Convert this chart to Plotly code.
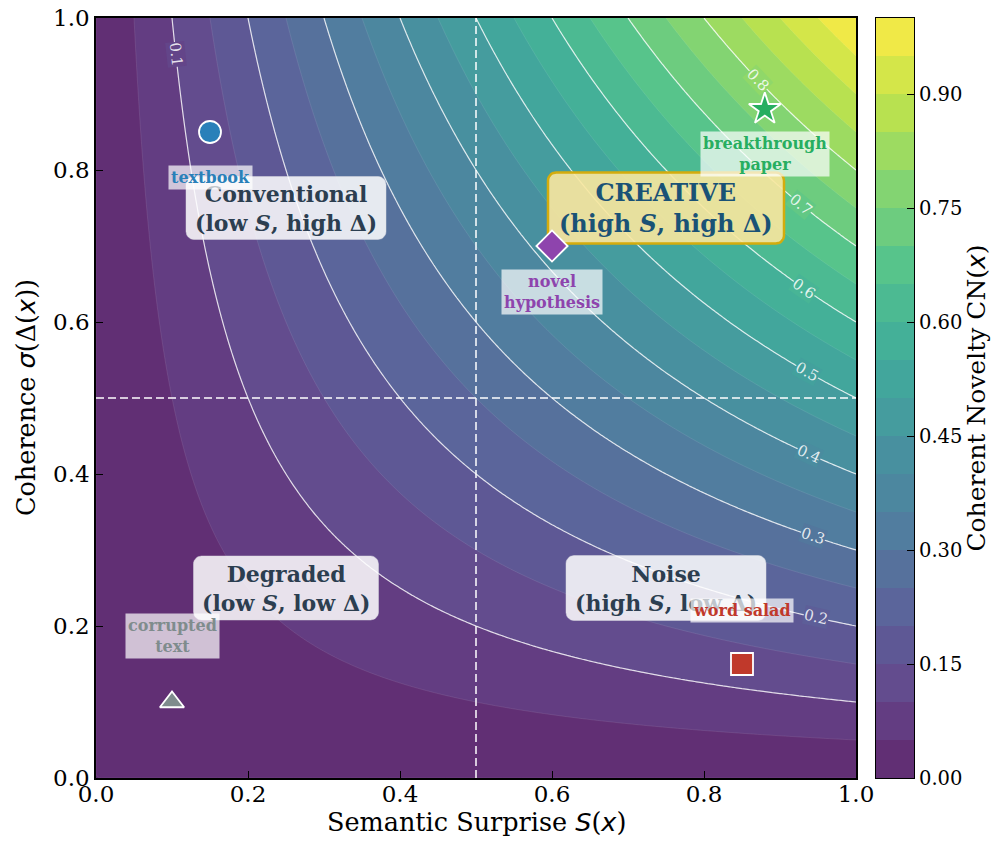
import numpy as np
import plotly.graph_objects as go
from plotly.colors import sample_colorscale

# ---------------- data ----------------
S_vals = np.linspace(0, 1, 201)          # semantic surprise grid
D_vals = np.linspace(0, 1, 201)          # coherence grid
CN = np.outer(D_vals, S_vals)            # coherent novelty = S * sigma(Delta)

fill_start, fill_end, fill_step = 0.0, 1.0, 0.05
line_start, line_end, line_step = 0.1, 0.8, 0.1

# contour labels: level and the S position where its label sits
label_levels = [0.1, 0.2, 0.3, 0.4, 0.5, 0.6, 0.7, 0.8]
label_S = [0.105, 0.947, 0.943, 0.938, 0.936, 0.932, 0.928, 0.871]

point_names = ["textbook", "novel<br>hypothesis", "breakthrough<br>paper", "word salad", "corrupted<br>text"]
point_S = [0.15, 0.60, 0.88, 0.85, 0.10]
point_D = [0.85, 0.70, 0.88, 0.15, 0.10]

region_titles = ["Conventional", "CREATIVE", "Degraded", "Noise"]
region_subs = ["(low <i>S</i>, high Δ)", "(high <i>S</i>, high Δ)", "(low <i>S</i>, low Δ)", "(high <i>S</i>, low Δ)"]
region_S = [0.25, 0.75, 0.25, 0.75]
region_D = [0.75, 0.75, 0.25, 0.25]

xticks = [0.0, 0.2, 0.4, 0.6, 0.8, 1.0]
yticks = [0.0, 0.2, 0.4, 0.6, 0.8, 1.0]
cbar_ticks = [0.0, 0.15, 0.30, 0.45, 0.60, 0.75, 0.90]

x_title = "Semantic Surprise "
y_title = "Coherence "
cbar_title = "Coherent Novelty CN"

# ---------------- styles ----------------
FONT = "DejaVu Serif"
SANS_I = '<span style="font-family:DejaVu Sans"><i>{}</i></span>'
point_colors = ["#2980b9", "#8e44ad", "#27ae60", "#c0392b", "#7f8c8d"]
point_symbols = ["circle", "diamond", "star", "square", "triangle-up"]
point_sizes = [22, 24, 24, 22, 21]
label_shift = [-45, -46, -45, 54, 66]
box_w_px = [200, 236, 185, 200]
box_h_px = [63, 71, 64, 65]
ALPHA = 0.85

W, H = 999, 843
# the page places the figure with a small offset; margins compensate for it
ML, MR, MT, MB = 88, 93, 10, 73
PLOT_W = 760                      # px of main plot area
PAPER_W = W - ML - MR             # 818
CB_LEFT = 780                     # px from paper left to colorbar
PX = 1.0 / PLOT_W                 # data units per pixel (both axes span 760 px)


def parse_rgb(s):
    return [float(v) for v in s[s.index("(") + 1:s.index(")")].split(",")[:3]]


def blend(rgbstr, a=ALPHA):
    r, g, b = [a * v + (1 - a) * 255 for v in parse_rgb(rgbstr)]
    return f"rgb({r:.0f},{g:.0f},{b:.0f})"


def band_color(v):
    return blend(sample_colorscale("Viridis", [min(max(v, 0), 1)])[0])


nbands = int(round((fill_end - fill_start) / fill_step))
mids = [fill_start + fill_step * (k + 0.5) for k in range(nbands)]
mid_cols = [band_color(m) for m in mids]

# plotly contour fill maps colorscale over [start - step/2, end + step/2]
span = (nbands + 1) * fill_step
contour_scale = [[0.0, mid_cols[0]]]
for m, c in zip(mids, mid_cols):
    contour_scale.append([(m - fill_start + fill_step / 2) / span, c])
contour_scale.append([1.0, mid_cols[-1]])

# colorbar heatmap scale (zmin=0, zmax=1)
bar_scale = [[0.0, mid_cols[0]]] + [[m, c] for m, c in zip(mids, mid_cols)] + [[1.0, mid_cols[-1]]]


def rounded_rect(cx, cy, w, h, r, n=8):
    xs, ys = [], []
    corners = [(cx + w / 2 - r, cy + h / 2 - r, 0), (cx - w / 2 + r, cy + h / 2 - r, 90),
               (cx - w / 2 + r, cy - h / 2 + r, 180), (cx + w / 2 - r, cy - h / 2 + r, 270)]
    for ccx, ccy, a0 in corners:
        for t in np.linspace(a0, a0 + 90, n):
            xs.append(ccx + r * np.cos(np.radians(t)))
            ys.append(ccy + r * np.sin(np.radians(t)))
    xs.append(xs[0]); ys.append(ys[0])
    return xs, ys


fig = go.Figure()

# filled contours
fig.add_trace(go.Contour(
    x=S_vals, y=D_vals, z=CN, colorscale=contour_scale, showscale=False,
    contours=dict(start=fill_start, end=fill_end, size=fill_step, coloring="fill"),
    line=dict(width=0.5, color="rgba(255,255,255,0.18)"),
    hoverinfo="skip",
))

# labelled contour lines
fig.add_trace(go.Contour(
    x=S_vals, y=D_vals, z=CN, showscale=False,
    contours=dict(start=line_start, end=line_end, size=line_step, coloring="none", showlabels=False),
    line=dict(width=1.2, color="rgba(255,255,255,0.8)"),
    hoverinfo="skip",
))

# quadrant dividers
fig.add_shape(type="line", x0=0.5, x1=0.5, y0=0, y1=1, xref="x", yref="y", layer="above",
              line=dict(color="rgba(255,255,255,0.75)", width=2, dash="8px,4px"))
fig.add_shape(type="line", x0=0, x1=1, y0=0.5, y1=0.5, xref="x", yref="y", layer="above",
              line=dict(color="rgba(255,255,255,0.75)", width=2, dash="8px,4px"))

# region boxes (drawn as traces so that markers sit on top)
for t, xs, ys, bw, bh in zip(region_titles, region_S, region_D, box_w_px, box_h_px):
    bx, by = rounded_rect(xs, ys, bw * PX, bh * PX, 8 * PX)
    if t == "CREATIVE":
        fig.add_trace(go.Scatter(x=bx, y=by, mode="lines", fill="toself",
                                 fillcolor="rgba(249,231,159,0.9)",
                                 line=dict(color="#d4ac0d", width=2.5),
                                 hoverinfo="skip", showlegend=False))
    else:
        fig.add_trace(go.Scatter(x=bx, y=by, mode="lines", fill="toself",
                                 fillcolor="rgba(255,255,255,0.85)",
                                 line=dict(color="rgba(220,220,225,0.6)", width=0.8),
                                 hoverinfo="skip", showlegend=False))

# example points
fig.add_trace(go.Scatter(
    x=point_S, y=point_D, mode="markers",
    marker=dict(symbol=point_symbols, size=point_sizes, color=point_colors, opacity=1,
                line=dict(color="white", width=1.8)),
    hoverinfo="skip", showlegend=False,
))

# contour labels (rotated along the level curve)
for lev, s in zip(label_levels, label_S):
    d = lev / s
    ang = np.degrees(np.arctan(lev / s ** 2))
    fig.add_annotation(x=s, y=d, xref="x", yref="y", showarrow=False, text=f"{lev:.1f}",
                       textangle=ang, font=dict(family=FONT, size=15, color="rgba(255,255,255,0.85)"),
                       bgcolor=band_color(lev), borderpad=0)

# region text
for t, s, xs, ys in zip(region_titles, region_subs, region_S, region_D):
    if t == "CREATIVE":
        fig.add_annotation(x=xs, y=ys, xref="x", yref="y", showarrow=False,
                           text=f"<b>{t}<br>{s}</b>",
                           font=dict(family=FONT, size=24, color="#1a5276"))
    else:
        fig.add_annotation(x=xs, y=ys, xref="x", yref="y", showarrow=False,
                           text=f"<b>{t}<br>{s}</b>",
                           font=dict(family=FONT, size=22, color="#2c3e50"))

# point labels
for n, xs, ys, c, sh in zip(point_names, point_S, point_D, point_colors, label_shift):
    fig.add_annotation(x=xs, y=ys, xref="x", yref="y", showarrow=False, yshift=sh,
                       text=f"<b>{n}</b>", font=dict(family=FONT, size=16, color=c),
                       bgcolor="rgba(255,255,255,0.7)", borderpad=2)

# axis titles
fig.add_annotation(x=0.5 * PLOT_W / PAPER_W, y=0, xref="paper", yref="paper", yshift=-44,
                   xanchor="center", yanchor="middle", showarrow=False,
                   text=x_title + SANS_I.format("S") + "(" + SANS_I.format("x") + ")",
                   font=dict(family=FONT, size=25.5, color="black"))
fig.add_annotation(x=0, y=0.5, xref="paper", yref="paper", xshift=-70,
                   xanchor="center", yanchor="middle", showarrow=False, textangle=-90,
                   text=y_title + SANS_I.format("σ") + "(Δ(" + SANS_I.format("x") + "))",
                   font=dict(family=FONT, size=25.5, color="black"))

# colorbar drawn as a heatmap on its own axes
fig.add_trace(go.Heatmap(
    x=[0], y=mids, z=[[m] for m in mids], zmin=0, zmax=1, colorscale=bar_scale,
    showscale=False, xaxis="x2", yaxis="y2", hoverinfo="skip",
))

axis_common = dict(range=[0, 1], showgrid=False, zeroline=False, showline=True, linecolor="black",
                   linewidth=1.5, mirror=True, ticks="inside", ticklen=7, tickwidth=1.2, tickcolor="black",
                   tickformat=".1f", tickfont=dict(family=FONT, size=23, color="black"),
                   ticklabeloverflow="allow")

fig.update_layout(
    width=W, height=H, margin=dict(l=ML, r=MR, t=MT, b=MB, autoexpand=False),
    paper_bgcolor="white", plot_bgcolor="white", showlegend=False, font=dict(family=FONT),
    xaxis=dict(**axis_common, domain=[0, PLOT_W / PAPER_W], anchor="y", tickvals=xticks,
               ticklabelstandoff=-5),
    yaxis=dict(**axis_common, domain=[0, 1], anchor="x", tickvals=yticks),
    xaxis2=dict(domain=[CB_LEFT / PAPER_W, 1], anchor="y2", range=[-0.5, 0.5], showticklabels=False,
                ticks="", showgrid=False, zeroline=False, showline=True, mirror=True,
                linecolor="black", linewidth=1.2),
    yaxis2=dict(domain=[0, 1], anchor="x2", side="right", range=[0, 1], tickvals=cbar_ticks,
                tickformat=".2f", ticks="inside", ticklen=7, tickwidth=1.2, tickcolor="black",
                showgrid=False, zeroline=False, showline=True, mirror=True, linecolor="black", linewidth=1.2,
                tickfont=dict(family=FONT, size=19.5, color="black"), ticklabeloverflow="allow",
                title=dict(text=cbar_title + "(" + SANS_I.format("x") + ")",
                           font=dict(family=FONT, size=25, color="black"), standoff=6)),
)

fig.write_html("out.html")
